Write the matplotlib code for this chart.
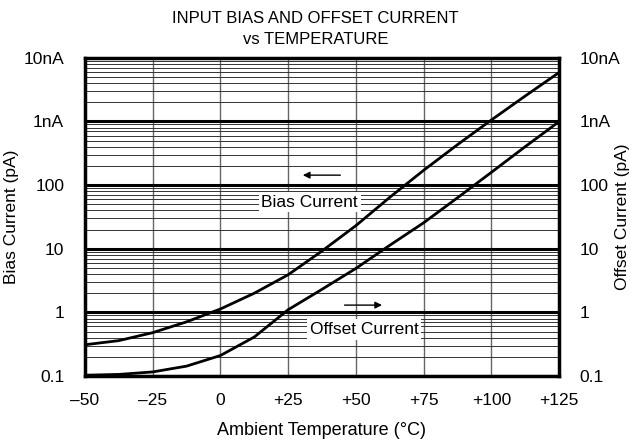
import matplotlib.pyplot as plt
from matplotlib.ticker import FixedLocator, LogLocator, NullFormatter

plt.rcParams['font.family'] = ['Liberation Sans', 'DejaVu Sans']

# Values (pA vs deg C)
temps = [-50, -37.5, -25, -12.5, 0, 12.5, 25, 37.5, 50, 62.5, 75, 87.5, 100, 112.5, 125]
bias_pa = [0.31, 0.36, 0.48, 0.71, 1.13, 2.0, 3.9, 9.2, 23, 64, 170, 430, 1050, 2500, 5850]
offset_pa = [0.103, 0.106, 0.116, 0.143, 0.21, 0.41, 1.1, 2.3, 4.9, 11.3, 25.5, 63, 158, 400, 990]

x_ticks = [-50, -25, 0, 25, 50, 75, 100, 125]
x_labels = ['\u201350', '\u201325', '0', '+25', '+50', '+75', '+100', '+125']
y_ticks = [0.1, 1, 10, 100, 1000, 10000]
y_labels = ['0.1', '1', '10', '100', '1nA', '10nA']

fs = 12.5

fig = plt.figure(figsize=(6.31, 4.45), dpi=100)
ax = fig.add_axes([0.1347, 0.155, 0.7512, 0.7153])

ax.plot(temps, bias_pa, color='black', lw=2, zorder=3)
ax.plot(temps, offset_pa, color='black', lw=2, zorder=3)

ax.set_yscale('log')
ax.set_xlim(-50, 125)
ax.set_ylim(0.1, 10000)

ax.set_xticks(x_ticks)
ax.set_xticklabels(x_labels, fontsize=fs)
ax.set_yticks(y_ticks)
ax.set_yticklabels(y_labels, fontsize=fs)
ax.yaxis.set_minor_locator(LogLocator(base=10, subs=range(2, 10), numticks=20))
ax.yaxis.set_minor_formatter(NullFormatter())
ax.tick_params(which='both', length=0)
ax.tick_params(axis='y', pad=15)
ax.tick_params(axis='x', pad=12)

# grid: thick decades, thin minor lines, grey verticals
ax.grid(axis='y', which='major', color='black', lw=2.2)
ax.grid(axis='y', which='minor', color='#333333', lw=0.7)
ax.grid(axis='x', which='major', color='#666666', lw=1.0)
ax.set_axisbelow(True)
for s in ax.spines.values():
    s.set_linewidth(2.5)

# right axis labels
ax2 = ax.twinx()
ax2.set_yscale('log')
ax2.set_ylim(0.1, 10000)
ax2.yaxis.set_major_locator(FixedLocator(y_ticks))
ax2.set_yticklabels(y_labels, fontsize=fs)
ax2.yaxis.set_minor_formatter(NullFormatter())
ax2.tick_params(which='both', length=0, pad=15)
for s in ax2.spines.values():
    s.set_visible(False)

# annotations
box = dict(facecolor='white', edgecolor='none', pad=2)
ax.text(33, 54, 'Bias Current', fontsize=fs, ha='center', va='center', bbox=box, zorder=4)
ax.text(53, 0.54, 'Offset Current', fontsize=fs, ha='center', va='center', bbox=box, zorder=4)
ax.annotate('', xy=(29.4, 143), xytext=(45.3, 143),
            arrowprops=dict(arrowstyle='-|>', color='black', lw=1, mutation_scale=10))
ax.annotate('', xy=(60.7, 1.3), xytext=(44.8, 1.3),
            arrowprops=dict(arrowstyle='-|>', color='black', lw=1, mutation_scale=10))

ax.set_xlabel('Ambient Temperature (\u00b0C)', fontsize=13, labelpad=10)
fig.text(0.018, 0.512, 'Bias Current (pA)', rotation=90, fontsize=fs,
         ha='center', va='center')
fig.text(0.986, 0.512, 'Offset Current (pA)', rotation=90, fontsize=fs,
         ha='center', va='center')
fig.text(0.5, 0.958, 'INPUT BIAS AND OFFSET CURRENT', fontsize=12,
         ha='center', va='center')
fig.text(0.5, 0.912, 'vs TEMPERATURE', fontsize=12, ha='center', va='center')

fig.savefig('out.png', dpi=100)
